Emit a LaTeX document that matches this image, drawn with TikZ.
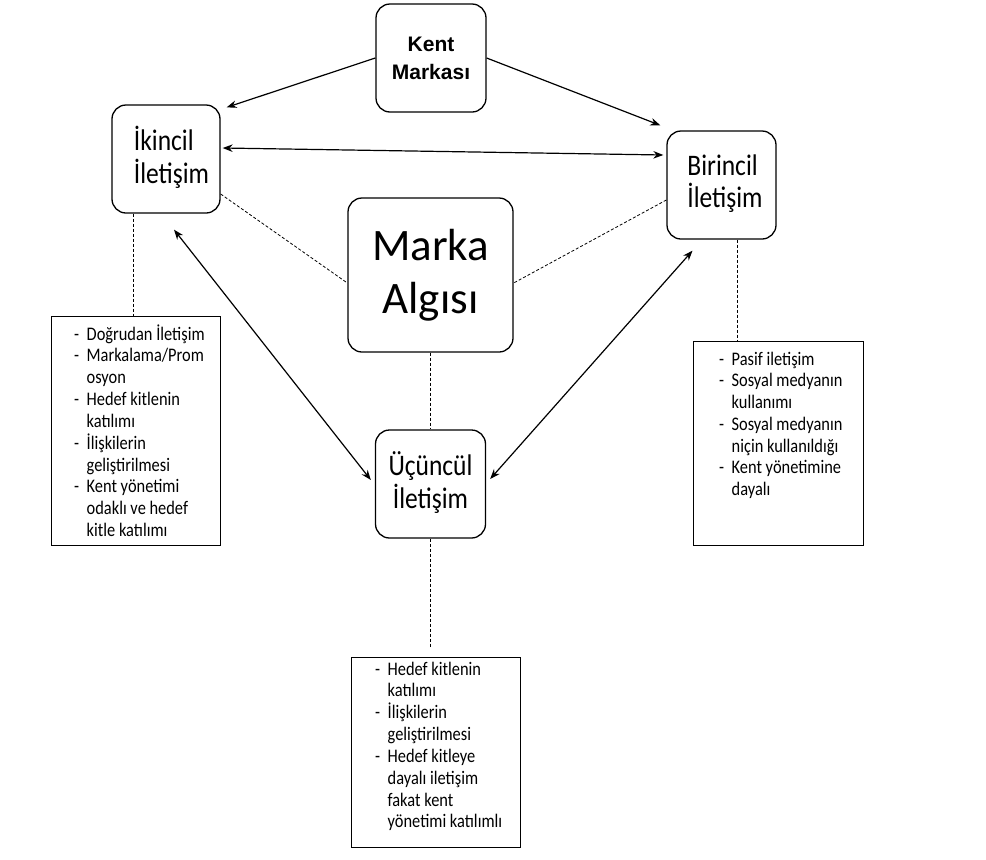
\documentclass[tikz,border=0pt]{standalone}
\usepackage{graphicx}
\usepackage{fontspec}
\setmainfont{Carlito}
\newfontfamily\headfont{Liberation Sans}
\usetikzlibrary{arrows.meta,calc}

% the body text is set slightly taller than wide
\newcommand{\tall}[1]{\scalebox{1}[1.17]{#1}}
% dash in front of a list item, and the indent of its continuation lines
\newcommand{\itemdash}{\makebox[12.5pt][l]{-}}
\newcommand{\itemgap}{\hspace*{12.5pt}}

\begin{document}
\begin{tikzpicture}[x=1pt,y=-1pt,
  stage/.style={draw,line width=1.3pt,rounded corners=14pt,inner sep=0pt,align=center},
  listframe/.style={draw,line width=1pt,inner sep=0pt},
  listtext/.style={inner sep=0pt,anchor=base west,font=\fontsize{16.4}{18.6}\selectfont},
  twoway/.style={line width=1.2pt,{Stealth[length=10pt,width=7.5pt]}-{Stealth[length=10pt,width=7.5pt]}},
  oneway/.style={line width=1.2pt,-{Stealth[length=10pt,width=7.5pt]}},
  tie/.style={line width=0.8pt,dash pattern=on 3pt off 2pt},
  midfont/.style={font=\fontsize{25.5}{23.2}\selectfont},
]
\useasboundingbox[fill=white] (0,0) rectangle (986,860);

% communication stages
\node[stage,minimum width=110pt,minimum height=108pt,
      font={\headfont\bfseries\fontsize{21}{28}\selectfont}] (km) at (431,58) {Kent\\Markası};
\node[stage,midfont,minimum width=108pt,minimum height=108pt] (ik) at (166,159)
  {\tall{\begin{tabular}{@{\hspace{11pt}}l@{}}İkincil\\İletişim\end{tabular}}};
\node[stage,midfont,minimum width=109pt,minimum height=108pt] (bi) at (721.5,185)
  {\tall{\begin{tabular}{@{\hspace{7pt}}l@{}}Birincil\\İletişim\end{tabular}}};
\node[stage,minimum width=165pt,minimum height=154pt,
      font=\fontsize{45}{53}\selectfont] (ma) at (430.5,275) {Marka\\Algısı};
\node[stage,midfont,minimum width=110pt,minimum height=108pt] (ue) at (430.5,484)
  {\tall{\begin{tabular}{@{}c@{}}Üçüncül\\İletişim\end{tabular}}};

% description boxes
\node[listframe,minimum width=169pt,minimum height=229pt] (lbox) at (135.5,430.5) {};
\node[listframe,minimum width=170pt,minimum height=204pt] (rbox) at (778,443) {};
\node[listframe,minimum width=169pt,minimum height=190pt] (bbox) at (435.5,752) {};

\node[listtext] (ltext) at (74,340) {\tall{\begin{tabular}[t]{@{}l@{}}
\itemdash Doğrudan İletişim\\
\itemdash Markalama/Prom\\
\itemgap osyon\\
\itemdash Hedef kitlenin\\
\itemgap katılımı\\
\itemdash İlişkilerin\\
\itemgap geliştirilmesi\\
\itemdash Kent yönetimi\\
\itemgap odaklı ve hedef\\
\itemgap kitle katılımı
\end{tabular}}};

\node[listtext] (rtext) at (719,365) {\tall{\begin{tabular}[t]{@{}l@{}}
\itemdash Pasif iletişim\\
\itemdash Sosyal medyanın\\
\itemgap kullanımı\\
\itemdash Sosyal medyanın\\
\itemgap niçin kullanıldığı\\
\itemdash Kent yönetimine\\
\itemgap dayalı
\end{tabular}}};

\node[listtext] (btext) at (375,675) {\tall{\begin{tabular}[t]{@{}l@{}}
\itemdash Hedef kitlenin\\
\itemgap katılımı\\
\itemdash İlişkilerin\\
\itemgap geliştirilmesi\\
\itemdash Hedef kitleye\\
\itemgap dayalı iletişim\\
\itemgap fakat kent\\
\itemgap yönetimi katılımlı
\end{tabular}}};

% arrows between the stages
\draw[oneway] (km.west) -- ($(ik.north east)+(6,3)$);
\draw[oneway] (km.east) -- ($(bi.north west)+(-6,-5)$);
\draw[twoway] ($(ik.east)+(2,-11)$) -- ($(bi.west)+(-3,-30)$);
\draw[twoway] ($(ik.south)+(8,16)$) -- ($(ue.west)+(-4,-4)$);
\draw[twoway] ($(bi.south)+(-29,11)$) -- ($(ue.east)+(4,-5)$);

% dashed ties
\draw[tie] ($(ik.east)+(0,35)$) -- ($(ma.west)+(0,8)$);
\draw[tie] ($(bi.west)+(0,15)$) -- ($(ma.east)+(0,8)$);
\draw[tie] (ma.south) -- (ue.north);
\draw[tie] ($(ik.south)+(-33,0)$) -- ($(lbox.north)+(-2.5,0)$);
\draw[tie] ($(bi.south)+(15.5,0)$) -- ($(rbox.north)+(-41,0)$);
\coordinate (uend) at ($(ue.south)+(0,108)$);
\draw[tie] (ue.south) -- (uend);
\end{tikzpicture}
\end{document}
